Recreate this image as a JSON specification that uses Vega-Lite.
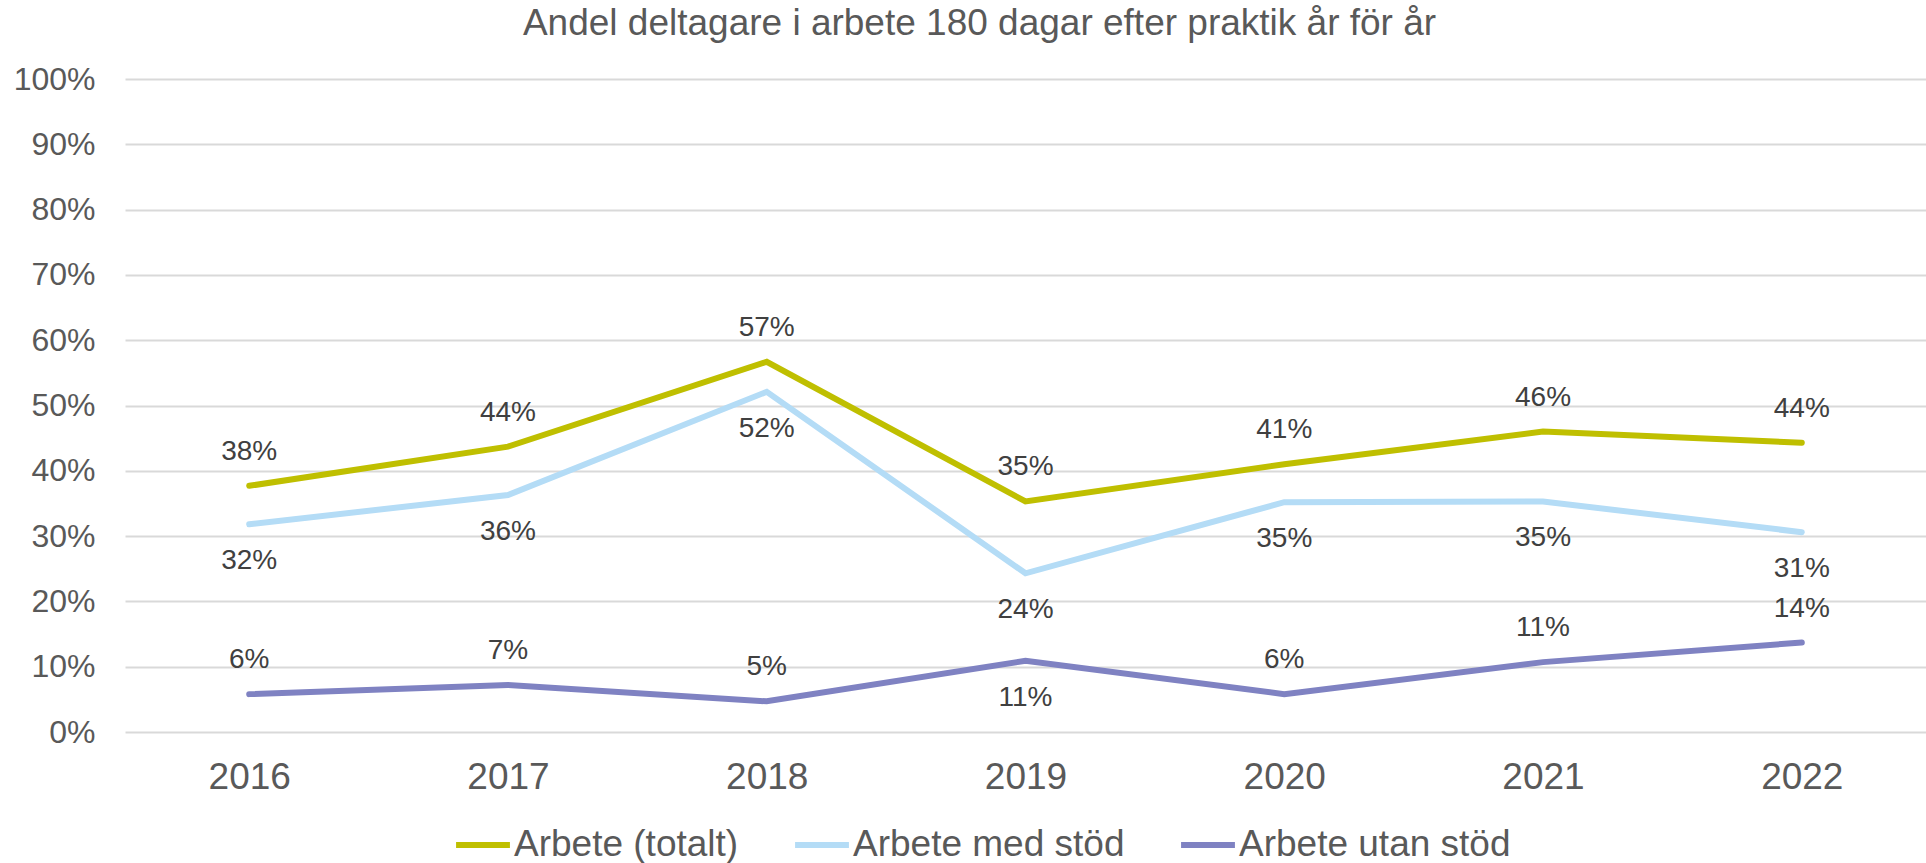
{
  "$schema": "https://vega.github.io/schema/vega-lite/v6.json",
  "autosize": {"type": "none"},
  "padding": {"left": 125, "top": 79, "right": 0, "bottom": 131},
  "width": 1801,
  "height": 653,
  "background": "white",
  "config": {
    "font": "Liberation Sans",
    "view": {"stroke": null}
  },
  "title": {
    "text": "Andel deltagare i arbete 180 dagar efter praktik år för år",
    "font": "Liberation Sans",
    "fontSize": 37,
    "fontWeight": "normal",
    "color": "#595959",
    "anchor": "middle",
    "dx": -46,
    "offset": 20
  },
  "data": {
    "values": [
      {"year": "2016", "series": "Arbete (totalt)", "value": 0.377},
      {"year": "2017", "series": "Arbete (totalt)", "value": 0.437},
      {"year": "2018", "series": "Arbete (totalt)", "value": 0.567},
      {"year": "2019", "series": "Arbete (totalt)", "value": 0.353},
      {"year": "2020", "series": "Arbete (totalt)", "value": 0.410},
      {"year": "2021", "series": "Arbete (totalt)", "value": 0.460},
      {"year": "2022", "series": "Arbete (totalt)", "value": 0.443},
      {"year": "2016", "series": "Arbete med stöd", "value": 0.318},
      {"year": "2017", "series": "Arbete med stöd", "value": 0.363},
      {"year": "2018", "series": "Arbete med stöd", "value": 0.521},
      {"year": "2019", "series": "Arbete med stöd", "value": 0.243},
      {"year": "2020", "series": "Arbete med stöd", "value": 0.352},
      {"year": "2021", "series": "Arbete med stöd", "value": 0.353},
      {"year": "2022", "series": "Arbete med stöd", "value": 0.306},
      {"year": "2016", "series": "Arbete utan stöd", "value": 0.058},
      {"year": "2017", "series": "Arbete utan stöd", "value": 0.072},
      {"year": "2018", "series": "Arbete utan stöd", "value": 0.047},
      {"year": "2019", "series": "Arbete utan stöd", "value": 0.109},
      {"year": "2020", "series": "Arbete utan stöd", "value": 0.058},
      {"year": "2021", "series": "Arbete utan stöd", "value": 0.107},
      {"year": "2022", "series": "Arbete utan stöd", "value": 0.137}
    ]
  },
  "encoding": {
    "x": {
      "field": "year",
      "type": "ordinal",
      "scale": {"type": "point", "padding": 0.48},
      "axis": {
        "title": null,
        "labelAngle": 0,
        "labelFontSize": 37,
        "labelColor": "#595959",
        "labelPadding": 27,
        "domain": false,
        "ticks": false,
        "grid": false
      }
    },
    "y": {
      "field": "value",
      "type": "quantitative",
      "scale": {"domain": [0, 1], "nice": false},
      "axis": {
        "title": null,
        "format": ".0%",
        "values": [0, 0.1, 0.2, 0.3, 0.4, 0.5, 0.6, 0.7, 0.8, 0.9, 1],
        "labelFontSize": 32,
        "labelColor": "#595959",
        "labelPadding": 30,
        "domain": false,
        "ticks": false,
        "grid": true,
        "gridColor": "#D9D9D9",
        "gridWidth": 2
      }
    }
  },
  "layer": [
    {
      "mark": {"type": "line", "strokeWidth": 6, "strokeCap": "round", "strokeJoin": "miter"},
      "encoding": {
        "color": {
          "field": "series",
          "type": "nominal",
          "scale": {
            "domain": ["Arbete (totalt)", "Arbete med stöd", "Arbete utan stöd"],
            "range": ["#BFBF00", "#B4DCF6", "#7F82C2"]
          },
          "legend": {
            "title": null,
            "orient": "none",
            "legendX": 328,
            "legendY": 736,
            "direction": "horizontal",
            "symbolType": "stroke",
            "symbolSize": 2900,
            "symbolStrokeWidth": 6,
            "labelFontSize": 37,
            "labelColor": "#595959",
            "labelLimit": 0,
            "labelOffset": 1,
            "columnPadding": 44
          }
        }
      }
    },
    {
      "transform": [{"filter": "datum.series == 'Arbete (totalt)' || (datum.series == 'Arbete utan stöd' && datum.year != '2019')"}],
      "mark": {"type": "text", "fontSize": 28, "color": "#404040", "baseline": "middle", "dy": -34},
      "encoding": {"text": {"field": "value", "type": "quantitative", "format": ".0%"}}
    },
    {
      "transform": [{"filter": "datum.series == 'Arbete med stöd' || (datum.series == 'Arbete utan stöd' && datum.year == '2019')"}],
      "mark": {"type": "text", "fontSize": 28, "color": "#404040", "baseline": "middle", "dy": 37},
      "encoding": {"text": {"field": "value", "type": "quantitative", "format": ".0%"}}
    }
  ]
}
